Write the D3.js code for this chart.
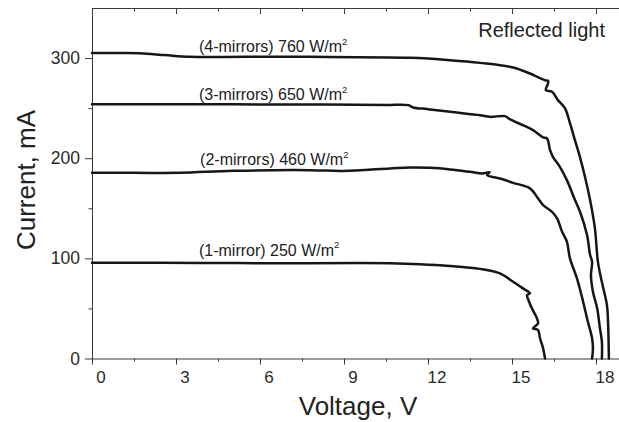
<!DOCTYPE html>
<html>
<head>
<meta charset="utf-8">
<script src="https://cdn.jsdelivr.net/npm/d3@7"></script>
<style>
  body { margin: 0; background: #fff; }
  svg { display: block; font-family: "Liberation Sans", Arial, sans-serif; }
</style>
</head>
<body>
<div id="chart"></div>
<script>
// I-V curves, [voltage V, current mA]
const oneMirror = [
  [0, 95.6], [4, 95.4], [7.79, 95], [9.57, 95.4], [10.64, 95], [11.71, 94], [12.79, 92.3],
  [13.5, 90.6], [13.86, 89.5], [14.57, 85], [15.04, 76.6], [15.39, 70], [15.64, 65],
  [15.54, 63.4], [15.61, 56.7], [15.71, 50.1], [15.89, 40.1], [15.93, 35.1],
  [15.75, 30.1], [15.93, 28.4], [16.0, 20.2], [16.11, 10.2], [16.18, 0]
];
const twoMirrors = [
  [0, 185.4], [1.5, 185.4], [3.14, 185.4], [5.04, 187.4], [7.79, 188.1], [8.96, 187.2],
  [10.64, 189.8], [11.36, 190.8], [12.07, 190.4], [12.79, 188.8], [13.5, 186.4],
  [13.93, 184.8], [14.2, 186.0], [14.11, 183.1], [14.57, 179.8], [15.04, 175.4],
  [15.64, 169.9], [15.93, 159.9], [16.11, 153.2], [16.43, 146.5], [16.61, 139.9],
  [16.79, 126.5], [16.96, 116.6], [17.07, 100], [17.32, 80], [17.54, 56.7],
  [17.71, 36.7], [17.86, 20.2], [17.89, 10.2], [17.86, 0]
];
const threeMirrors = [
  [0, 254], [4, 253.8], [7.79, 253.7], [10.5, 253.2], [11.3, 253], [11.46, 250.7],
  [12.0, 249], [12.79, 246.3], [13.86, 243], [14.21, 241.3], [14.75, 242], [14.93, 238.7],
  [15.39, 233], [15.75, 228], [16.11, 220.8], [16.25, 219.8], [16.36, 208], [16.46, 201.4],
  [16.71, 191.4], [16.96, 178.1], [17.25, 158.2], [17.43, 146.5], [17.68, 123.3],
  [17.79, 103.3], [17.86, 96.6], [17.82, 83.3], [17.89, 66.7], [18.04, 50.4],
  [18.14, 30.4], [18.21, 16.8], [18.21, 0]
];
const fourMirrors = [
  [0, 305], [0.9, 305], [1.71, 304.8], [2.6, 303], [3.5, 301.2], [5.5, 301.2],
  [7.79, 301.2], [11.36, 300.2], [12.79, 297.9], [13.86, 295.2], [15.04, 290.6],
  [15.64, 284.6], [16.18, 277.9], [16.29, 277.2], [16.29, 275], [16.21, 268],
  [16.43, 266.3], [16.64, 258], [16.89, 250], [17.07, 235], [17.25, 217.9],
  [17.43, 200.9], [17.61, 181], [17.79, 158], [17.96, 130.2], [18.07, 96.3],
  [18.21, 76.3], [18.39, 53.4], [18.43, 36.4], [18.46, 0]
];

const curves = [oneMirror, twoMirrors, threeMirrors, fourMirrors];

// curve labels: text, anchor voltage, anchor current
const labelTexts = ['(1-mirror) 250 W/m', '(2-mirrors) 460 W/m', '(3-mirrors) 650 W/m', '(4-mirrors) 760 W/m'];
const labelV = [3.82, 3.86, 3.82, 3.82];
const labelI = [102.5, 193, 258, 306];

const xMajor = [0, 3, 6, 9, 12, 15, 18];
const xMinor = [1.5, 4.5, 7.5, 10.5, 13.5, 16.5];
const yMajor = [0, 100, 200, 300];
const yMinor = [50, 150, 250];

const width = 619;
const height = 422;
const margin = {top: 8, right: 0, bottom: 63.5, left: 92};

const svg = d3.select('#chart')
  .append('svg')
  .attr('width', width)
  .attr('height', height);

const x = d3.scaleLinear().domain([0, 19]).range([margin.left, margin.left + 19 * 28]);
const y = d3.scaleLinear().domain([0, 350]).range([height - margin.bottom, margin.top]);

const axisColor = '#3a3a3a';

function styleAxis(g) {
  g.select('.domain').attr('stroke', axisColor).attr('stroke-width', 1);
  g.selectAll('.tick line').attr('stroke', axisColor).attr('stroke-width', 1);
  g.selectAll('.tick text').attr('fill', '#2a2a2a');
}

// bottom axis, labels sit a little to the right of their ticks like the original
svg.append('g')
  .attr('transform', `translate(0,${y(0)})`)
  .call(d3.axisBottom(x).tickValues(xMajor).tickSize(6).tickSizeOuter(0).tickPadding(6))
  .call(styleAxis)
  .call(g => g.selectAll('.tick text').attr('font-size', 17).attr('dx', 8.5));

svg.append('g')
  .attr('transform', `translate(0,${y(0)})`)
  .call(d3.axisBottom(x).tickValues(xMinor).tickSize(3).tickFormat(''))
  .call(styleAxis)
  .call(g => g.select('.domain').remove());

// top axis, inward ticks, no labels
svg.append('g')
  .attr('transform', `translate(0,${y(350)})`)
  .call(d3.axisBottom(x).tickValues(xMajor).tickSize(6).tickSizeOuter(0).tickFormat(''))
  .call(styleAxis);

svg.append('g')
  .attr('transform', `translate(0,${y(350)})`)
  .call(d3.axisBottom(x).tickValues(xMinor).tickSize(3.5).tickFormat(''))
  .call(styleAxis)
  .call(g => g.select('.domain').remove());

// left axis
svg.append('g')
  .attr('transform', `translate(${x(0)},0)`)
  .call(d3.axisLeft(y).tickValues(yMajor).tickSize(7).tickSizeOuter(0).tickPadding(5))
  .call(styleAxis)
  .call(g => g.selectAll('.tick text').attr('font-size', 17.5));

svg.append('g')
  .attr('transform', `translate(${x(0)},0)`)
  .call(d3.axisLeft(y).tickValues(yMinor).tickSize(3.5).tickFormat(''))
  .call(styleAxis)
  .call(g => g.select('.domain').remove());

// curves, centripetal catmull-rom so the knees come out smooth
const line = d3.line()
  .curve(d3.curveCatmullRom.alpha(0.5))
  .x(d => x(d[0]))
  .y(d => y(d[1]));

svg.append('g')
  .selectAll('path')
  .data(curves)
  .enter()
  .append('path')
  .attr('d', line)
  .attr('fill', 'none')
  .attr('stroke', '#161616')
  .attr('stroke-width', 2.5)
  .attr('stroke-linejoin', 'round')
  .attr('stroke-linecap', 'round');

// curve labels with W/m² superscript
const labels = svg.append('g')
  .selectAll('text')
  .data(labelTexts)
  .enter()
  .append('text')
  .attr('x', (d, i) => x(labelV[i]))
  .attr('y', (d, i) => y(labelI[i]))
  .attr('font-size', 16)
  .attr('fill', '#222');

labels.append('tspan').text(d => d);
labels.append('tspan')
  .attr('dy', -7.5)
  .attr('font-size', 9.5)
  .text('2');

svg.append('text')
  .attr('x', 605)
  .attr('y', 36.5)
  .attr('text-anchor', 'end')
  .attr('font-size', 20)
  .attr('fill', '#222')
  .text('Reflected light');

// axis titles
svg.append('text')
  .attr('x', 358)
  .attr('y', 415)
  .attr('text-anchor', 'middle')
  .attr('font-size', 26)
  .attr('fill', '#222')
  .text('Voltage, V');

svg.append('text')
  .attr('transform', 'translate(35,180) rotate(-90)')
  .attr('text-anchor', 'middle')
  .attr('font-size', 26)
  .attr('fill', '#222')
  .text('Current, mA');
</script>
</body>
</html>
